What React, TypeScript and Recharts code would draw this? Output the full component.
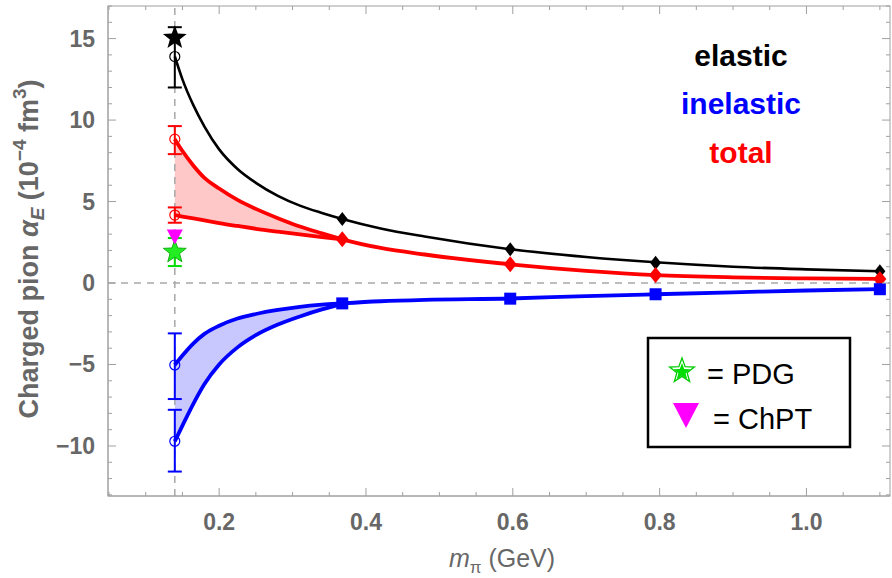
import React from 'react';
import { ComposedChart, Line, Area, Scatter, ErrorBar, XAxis, YAxis, ReferenceLine, Customized } from 'recharts';

// fitted curves
const xGrid = [0.1396, 0.15, 0.165, 0.18, 0.2, 0.225, 0.25, 0.28, 0.31, 0.34, 0.3677, 0.42, 0.48, 0.5965, 0.7, 0.7945, 0.9, 1.0, 1.1];
const elasticCurve = [13.9, 12.5, 10.9, 9.6, 8.2, 7.0, 6.15, 5.35, 4.75, 4.3, 3.93, 3.35, 2.85, 2.07, 1.6, 1.27, 1.0, 0.84, 0.72];
const totalUpper = [8.83, 8.1, 7.2, 6.45, 5.8, 5.1, 4.55, 3.98, 3.47, 3.05, 2.68, 2.15, 1.75, 1.15, 0.75, 0.49, 0.35, 0.28, 0.25];
const totalLower = [4.17, 4.08, 3.96, 3.84, 3.68, 3.5, 3.33, 3.15, 2.98, 2.82, 2.68];
const inelUpper = [-5.03, -4.45, -3.7, -3.12, -2.62, -2.18, -1.9, -1.65, -1.46, -1.33, -1.25, -1.12, -1.03, -0.95, -0.8, -0.69, -0.57, -0.46, -0.38];
const inelLower = [-9.71, -8.75, -7.4, -6.2, -5.0, -3.95, -3.2, -2.55, -2.05, -1.62, -1.3];

// lattice points
const latticeMass = [0.3677, 0.5965, 0.7945, 1.1];
const elasticPts = [3.93, 2.07, 1.25, 0.72];
const totalPts = [2.68, 1.15, 0.49, 0.25];
const inelasticPts = [-1.25, -0.96, -0.69, -0.38];

// physical point extrapolations
const physMass = 0.1396;
const elasticPhys = [13.9];
const elasticPhysErr = [[1.9, 1.8]];
const totalPhys = [8.83, 4.17];
const totalPhysErr = [[0.92, 0.8], [0.47, 0.47]];
const inelPhys = [-5.03, -9.71];
const inelPhysErr = [[2.09, 1.94], [1.86, 1.93]];
const blackStar = [15.05];
const pdgValue = [1.9];
const pdgErr = [0.86];
const chptValue = [2.85];

const xTicks = [0.05, 0.1, 0.15, 0.2, 0.25, 0.3, 0.35, 0.4, 0.45, 0.5, 0.55, 0.6, 0.65, 0.7, 0.75, 0.8, 0.85, 0.9, 0.95, 1.0, 1.05, 1.1];
const yTicks = [-13, -12, -11, -10, -9, -8, -7, -6, -5, -4, -3, -2, -1, 0, 1, 2, 3, 4, 5, 6, 7, 8, 9, 10, 11, 12, 13, 14, 15, 16, 17];

const curveData = xGrid.map((x, i) => ({
  x,
  el: elasticCurve[i],
  totHi: totalUpper[i],
  totLo: i < totalLower.length ? totalLower[i] : null,
  totBand: i < totalLower.length ? [totalLower[i], totalUpper[i]] : null,
  inHi: inelUpper[i],
  inLo: i < inelLower.length ? inelLower[i] : null,
  inBand: i < inelLower.length ? [inelLower[i], inelUpper[i]] : null,
}));

const pts = (xs: number[], ys: number[], errs?: any[]) => ys.map((y, i) => ({ x: xs[i], y, err: errs ? errs[i] : 0 }));

const AXIS = '#a0a0a0';
const LABEL = '#676767';
const FONT = '"Liberation Sans", Arial, sans-serif';
const PLOT_W = 782;
const PLOT_H = 490;

const isMajorX = (v: number) => Math.abs(v * 5 - Math.round(v * 5)) < 1e-6;
const isMajorY = (v: number) => v % 5 === 0;

function starPts(cx: number, cy: number, R: number, r: number) {
  const out: string[] = [];
  for (let i = 0; i < 10; i++) {
    const a = -Math.PI / 2 + (i * Math.PI) / 5;
    const rad = i % 2 === 0 ? R : r;
    out.push(`${cx + rad * Math.cos(a)},${cy + rad * Math.sin(a)}`);
  }
  return out.join(' ');
}

// bottom ticks also draw the matching tick on the top frame
const BottomTick = (p: any) => {
  const major = isMajorX(p.payload.value);
  const len = major ? 8 : 4;
  const top = p.y - PLOT_H;
  return (
    <g>
      <line x1={p.x} x2={p.x} y1={p.y} y2={p.y - len} stroke={AXIS} />
      <line x1={p.x} x2={p.x} y1={top} y2={top + len} stroke={AXIS} />
      {major && (
        <text x={p.x} y={p.y + 34} textAnchor="middle" fontFamily={FONT} fontWeight="bold" fontSize={23} fill={LABEL}>
          {p.payload.value.toFixed(1)}
        </text>
      )}
    </g>
  );
};
// left ticks also draw the matching tick on the right frame
const LeftTick = (p: any) => {
  const v = p.payload.value;
  const major = isMajorY(v);
  const len = major ? 8 : 4;
  const right = p.x + PLOT_W;
  return (
    <g>
      <line x1={p.x} x2={p.x + len} y1={p.y} y2={p.y} stroke={AXIS} />
      <line x1={right} x2={right - len} y1={p.y} y2={p.y} stroke={AXIS} />
      {major && (
        <text x={p.x - 13} y={p.y + 8} textAnchor="end" fontFamily={FONT} fontWeight="bold" fontSize={23} fill={LABEL}>
          {v < 0 ? `\u2212${-v}` : v}
        </text>
      )}
    </g>
  );
};

const OpenCircle = (color: string) => (p: any) => (
  <circle cx={p.cx} cy={p.cy} r={5} fill="none" stroke={color} strokeWidth={1.2} />
);
const Diamond = (color: string, w: number, h: number) => (p: any) => (
  <polygon points={`${p.cx},${p.cy - h} ${p.cx + w},${p.cy} ${p.cx},${p.cy + h} ${p.cx - w},${p.cy}`} fill={color} />
);
const Square = (p: any) => <rect x={p.cx - 6} y={p.cy - 6} width={12} height={12} fill="#0000ff" />;
const BlackStar = (p: any) => <polygon points={starPts(p.cx, p.cy, 12.5, 5.2)} fill="#000" />;
const GreenStar = (p: any) => <polygon points={starPts(p.cx, p.cy, 12, 5)} fill="#22ee22" stroke="#10b010" strokeWidth={1} />;
const TriDown = (p: any) => (
  <polygon points={`${p.cx - 8},${p.cy - 7} ${p.cx + 8},${p.cy - 7} ${p.cx},${p.cy + 8}`} fill="#ff00ff" />
);

const Overlay = () => (
  <g>
    <rect x={108} y={6} width={PLOT_W} height={PLOT_H} fill="none" stroke={AXIS} strokeWidth={1} />
    <text x={38} y={249} transform="rotate(-90, 38, 249)" textAnchor="middle" fontFamily={FONT} fontWeight="bold" fontSize={27} fill={LABEL}>
      Charged pion <tspan fontStyle="italic">α</tspan>
      <tspan dy={6} fontSize={19} fontStyle="italic">E</tspan>
      <tspan dy={-6}> (10</tspan>
      <tspan dy={-12} fontSize={19}>−4</tspan>
      <tspan dy={12}> fm</tspan>
      <tspan dy={-12} fontSize={19}>3</tspan>
      <tspan dy={12}>)</tspan>
    </text>
    <text x={502} y={567} textAnchor="middle" fontFamily={FONT} fontSize={25} fill={LABEL}>
      <tspan fontStyle="italic">m</tspan>
      <tspan dy={6} fontSize={17}>π</tspan>
      <tspan dy={-6}> (GeV)</tspan>
    </text>
    <g fontFamily={FONT} fontWeight="bold" fontSize={30} textAnchor="middle">
      <text x={741} y={66} fill="#000">elastic</text>
      <text x={741} y={114} fill="#0000ff">inelastic</text>
      <text x={741} y={163} fill="#ff0000">total</text>
    </g>
    <rect x={648} y={338} width={202} height={109} fill="#fff" stroke="#000" strokeWidth={2.5} />
    <polygon points={starPts(682, 371, 13, 5.4)} fill="none" stroke="#00cc00" strokeWidth={1.3} />
    <polygon points={starPts(682, 372, 9, 3.8)} fill="#00dd00" />
    <text x={707} y={384} fontFamily={FONT} fontSize={29} fill="#000">= PDG</text>
    <polygon points="673,403 699,403 686,428" fill="#ff00ff" />
    <text x={713} y={429} fontFamily={FONT} fontSize={29} fill="#000">= ChPT</text>
  </g>
);

export default function App() {
  const xDomain = [0.0486, 1.1138];
  const yDomain = [-13.07, 17.0];
  return (
    <div style={{ position: 'absolute', left: 0, top: 0, background: '#fff' }}>
      <ComposedChart width={892} height={578} data={curveData} margin={{ top: 6, right: 2, bottom: 0, left: 0 }}>
        <XAxis dataKey="x" type="number" domain={xDomain} ticks={xTicks} interval={0} allowDataOverflow
          height={82} tickSize={0} tickMargin={0} stroke={AXIS} tick={BottomTick} />
        <YAxis type="number" domain={yDomain} ticks={yTicks} interval={0} allowDataOverflow
          width={108} tickSize={0} tickMargin={0} stroke={AXIS} tick={LeftTick} />
        <ReferenceLine x={physMass} stroke="#a8a8a8" strokeDasharray="7 6" strokeWidth={1.5} />
        <ReferenceLine y={0} stroke="#a8a8a8" strokeDasharray="7 6" strokeWidth={1.5} />
        <Area dataKey="totBand" type="monotone" fill="#ffc8c8" fillOpacity={1} stroke="none" isAnimationActive={false} />
        <Area dataKey="inBand" type="monotone" fill="#c8c8ff" fillOpacity={1} stroke="none" isAnimationActive={false} />
        <Line dataKey="el" type="monotone" stroke="#000" strokeWidth={2.6} dot={false} isAnimationActive={false} />
        <Line dataKey="totLo" type="monotone" stroke="#ff0000" strokeWidth={3.8} dot={false} isAnimationActive={false} />
        <Line dataKey="totHi" type="monotone" stroke="#ff0000" strokeWidth={3.8} dot={false} isAnimationActive={false} />
        <Line dataKey="inLo" type="monotone" stroke="#0000ff" strokeWidth={3.8} dot={false} isAnimationActive={false} />
        <Line dataKey="inHi" type="monotone" stroke="#0000ff" strokeWidth={3.8} dot={false} isAnimationActive={false} />
        <Scatter data={pts(latticeMass, elasticPts)} dataKey="y" shape={Diamond('#000', 5.5, 7)} isAnimationActive={false} />
        <Scatter data={pts(latticeMass, totalPts)} dataKey="y" shape={Diamond('#ff0000', 6.5, 8)} isAnimationActive={false} />
        <Scatter data={pts(latticeMass, inelasticPts)} dataKey="y" shape={Square} isAnimationActive={false} />
        <Scatter data={pts([physMass], elasticPhys, elasticPhysErr)} dataKey="y" shape={OpenCircle('#000')} isAnimationActive={false}>
          <ErrorBar dataKey="err" direction="y" width={7} stroke="#000" strokeWidth={2} />
        </Scatter>
        <Scatter data={pts([physMass, physMass], totalPhys, totalPhysErr)} dataKey="y" shape={OpenCircle('#ff0000')} isAnimationActive={false}>
          <ErrorBar dataKey="err" direction="y" width={7} stroke="#ff0000" strokeWidth={2} />
        </Scatter>
        <Scatter data={pts([physMass, physMass], inelPhys, inelPhysErr)} dataKey="y" shape={OpenCircle('#0000ff')} isAnimationActive={false}>
          <ErrorBar dataKey="err" direction="y" width={7} stroke="#0000ff" strokeWidth={2} />
        </Scatter>
        <Scatter data={pts([physMass], pdgValue, pdgErr)} dataKey="y" shape={GreenStar} isAnimationActive={false}>
          <ErrorBar dataKey="err" direction="y" width={7} stroke="#00dd00" strokeWidth={2} />
        </Scatter>
        <Scatter data={pts([physMass], chptValue)} dataKey="y" shape={TriDown} isAnimationActive={false} />
        <Scatter data={pts([physMass], blackStar)} dataKey="y" shape={BlackStar} isAnimationActive={false} />
        <Customized component={Overlay} />
      </ComposedChart>
    </div>
  );
}
